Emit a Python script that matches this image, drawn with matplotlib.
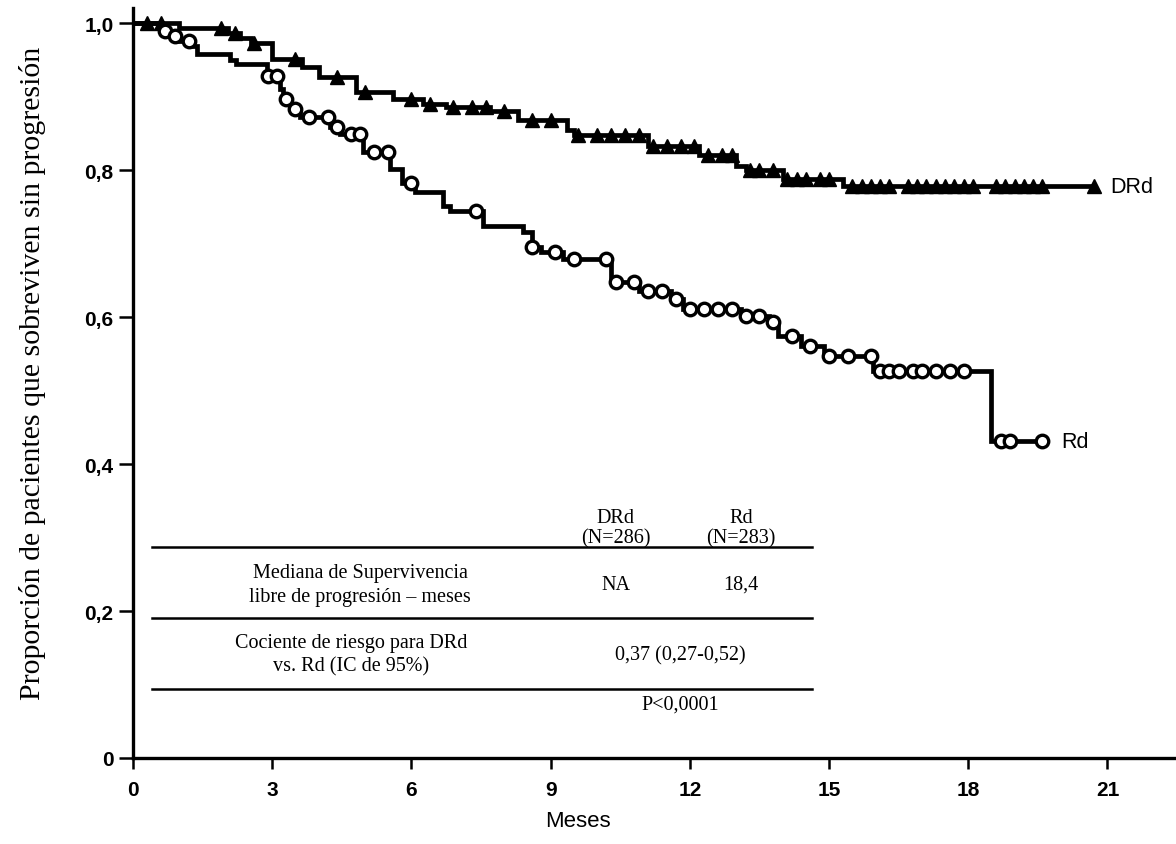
import numpy as np
import matplotlib
matplotlib.use("Agg")
import matplotlib.pyplot as plt

# ============================================================
# DATOS
# ============================================================

# DRd: tiempos de evento (meses) y supervivencia tras el evento
drd_tiempos = [0, 1.0, 2.05, 2.3, 2.55, 3.0, 3.65, 4.0, 4.8, 5.6, 6.25, 6.75,
               7.7, 8.3, 9.35, 9.5, 11.1, 12.2, 13.0, 13.2, 14.0, 15.3, 20.7]
drd_superv = [1.0, 0.993, 0.986, 0.98, 0.973, 0.951, 0.94, 0.927, 0.906, 0.897,
              0.89, 0.886, 0.88, 0.868, 0.855, 0.848, 0.833, 0.82, 0.806, 0.80,
              0.788, 0.778, 0.778]
drd_censura = [0.3, 0.6, 1.9, 2.2, 2.6, 3.5, 4.4, 5.0, 6.0, 6.4, 6.9, 7.3, 7.6,
               8.0, 8.6, 9.0, 9.6, 10.0, 10.3, 10.6, 10.9, 11.2, 11.5, 11.8,
               12.1, 12.4, 12.7, 12.9, 13.3, 13.5, 13.8, 14.1, 14.3, 14.5,
               14.8, 15.0, 15.5, 15.7, 15.9, 16.1, 16.3, 16.7, 16.9, 17.1,
               17.3, 17.5, 17.7, 17.9, 18.1, 18.6, 18.8, 19.0, 19.2, 19.4,
               19.6, 20.7]

# Rd
rd_tiempos = [0, 0.62, 0.83, 1.0, 1.23, 1.37, 2.1, 2.23, 2.88, 3.17, 3.23, 3.38,
              3.6, 4.25, 4.46, 4.96, 5.54, 5.8, 6.08, 6.68, 6.83, 7.55, 8.4,
              8.6, 8.8, 9.27, 10.3, 10.9, 11.6, 11.85, 13.1, 13.7, 13.9, 14.4,
              14.9, 15.95, 18.5, 19.6]
rd_superv = [1.0, 0.989, 0.982, 0.976, 0.969, 0.958, 0.949, 0.944, 0.928, 0.91,
             0.897, 0.883, 0.872, 0.858, 0.849, 0.824, 0.801, 0.783, 0.77,
             0.751, 0.744, 0.724, 0.716, 0.695, 0.688, 0.679, 0.648, 0.635,
             0.625, 0.611, 0.601, 0.593, 0.574, 0.561, 0.547, 0.527, 0.431,
             0.431]
rd_censura = [0.7, 0.9, 1.2, 2.9, 3.1, 3.3, 3.5, 3.8, 4.2, 4.4, 4.7, 4.9, 5.2,
              5.5, 6.0, 7.4, 8.6, 9.1, 9.5, 10.2, 10.4, 10.8, 11.1, 11.4, 11.7,
              12.0, 12.3, 12.6, 12.9, 13.2, 13.5, 13.8, 14.2, 14.6, 15.0, 15.4,
              15.9, 16.1, 16.3, 16.5, 16.8, 17.0, 17.3, 17.6, 17.9, 18.7, 18.9,
              19.6]

x_ticks = [0, 3, 6, 9, 12, 15, 18, 21]
y_ticks = [0, 0.2, 0.4, 0.6, 0.8, 1.0]
y_etiquetas = ["0", "0,2", "0,4", "0,6", "0,8", "1,0"]

# ============================================================
# FIGURA
# ============================================================

plt.rcParams["font.family"] = ["Liberation Serif", "DejaVu Serif"]
fuente_ejes = ["Liberation Sans Narrow", "Liberation Sans", "DejaVu Sans"]

fig = plt.figure(figsize=(11.76, 8.45), dpi=100)
ax = fig.add_axes([133 / 1176, 86 / 845, 0.8878, 0.8872])


def superv_en(tiempos, superv, t):
    idx = np.searchsorted(tiempos, t, side="right") - 1
    return np.asarray(superv)[idx]


# curvas
ax.step(drd_tiempos, drd_superv, where="post", color="black", lw=3.4,
        solid_joinstyle="miter")
ax.step(rd_tiempos, rd_superv, where="post", color="black", lw=3.4,
        solid_joinstyle="miter")

# marcas de censura
ax.plot(drd_censura, superv_en(drd_tiempos, drd_superv, drd_censura),
        linestyle="none", marker="^", markersize=9.5, color="black")
ax.plot(rd_censura, superv_en(rd_tiempos, rd_superv, rd_censura),
        linestyle="none", marker="o", markersize=9, markerfacecolor="white",
        markeredgecolor="black", markeredgewidth=2.4)

# etiquetas de las curvas
ax.text(21.05, drd_superv[-1], "DRd", family=fuente_ejes, fontsize=15.5,
        va="center", ha="left")
ax.text(20.0, rd_superv[-1], "Rd", family=fuente_ejes, fontsize=15.5,
        va="center", ha="left")

# ============================================================
# TABLA
# ============================================================

fs = 14.5
ax.text(10.4, 0.327, "DRd", fontsize=fs, ha="center", va="center")
ax.text(10.4, 0.300, "(N=286)", fontsize=fs, ha="center", va="center")
ax.text(13.1, 0.327, "Rd", fontsize=fs, ha="center", va="center")
ax.text(13.1, 0.300, "(N=283)", fontsize=fs, ha="center", va="center")

for y_linea in [0.287, 0.190, 0.094]:
    ax.plot([0.41, 14.63], [y_linea, y_linea], color="black", lw=1.8)

ax.text(4.9, 0.252, "Mediana de Supervivencia", fontsize=fs,
        ha="center", va="center")
ax.text(4.9, 0.220, "libre de progresión \u2013 meses", fontsize=fs,
        ha="center", va="center")
ax.text(10.4, 0.236, "NA", fontsize=fs, ha="center", va="center")
ax.text(13.1, 0.236, "18,4", fontsize=fs, ha="center", va="center")

ax.text(4.7, 0.157, "Cociente de riesgo para DRd", fontsize=fs,
        ha="center", va="center")
ax.text(4.7, 0.125, "vs. Rd (IC de 95%)", fontsize=fs,
        ha="center", va="center")
ax.text(11.8, 0.141, "0,37 (0,27-0,52)", fontsize=fs,
        ha="center", va="center")
ax.text(11.8, 0.073, "P<0,0001", fontsize=fs, ha="center", va="center")

# ============================================================
# EJES
# ============================================================

ax.set_xlim(0, 22.5)
ax.set_ylim(0, 1.02)
ax.spines["top"].set_visible(False)
ax.spines["right"].set_visible(False)
ax.spines["left"].set_linewidth(2.4)
ax.spines["bottom"].set_linewidth(2.4)

ax.set_xticks(x_ticks)
ax.set_xticklabels([str(v) for v in x_ticks], family=fuente_ejes,
                   fontweight="bold", fontsize=15)
ax.set_yticks(y_ticks)
ax.set_yticklabels(y_etiquetas, family=fuente_ejes, fontweight="bold",
                   fontsize=15)
ax.tick_params(axis="x", direction="out", length=8, width=1.8, pad=8)
ax.tick_params(axis="y", direction="out", length=10, width=1.8, pad=4)

ax.set_xlabel("Meses", family=fuente_ejes, fontsize=16)
ax.xaxis.set_label_coords((578 - 133) / 1044, -0.07)
ax.set_ylabel("Proporción de pacientes que sobreviven sin progresión",
              fontsize=21.5)
ax.yaxis.set_label_coords(-0.083, 0.515)

fig.savefig("out.png", dpi=100)
